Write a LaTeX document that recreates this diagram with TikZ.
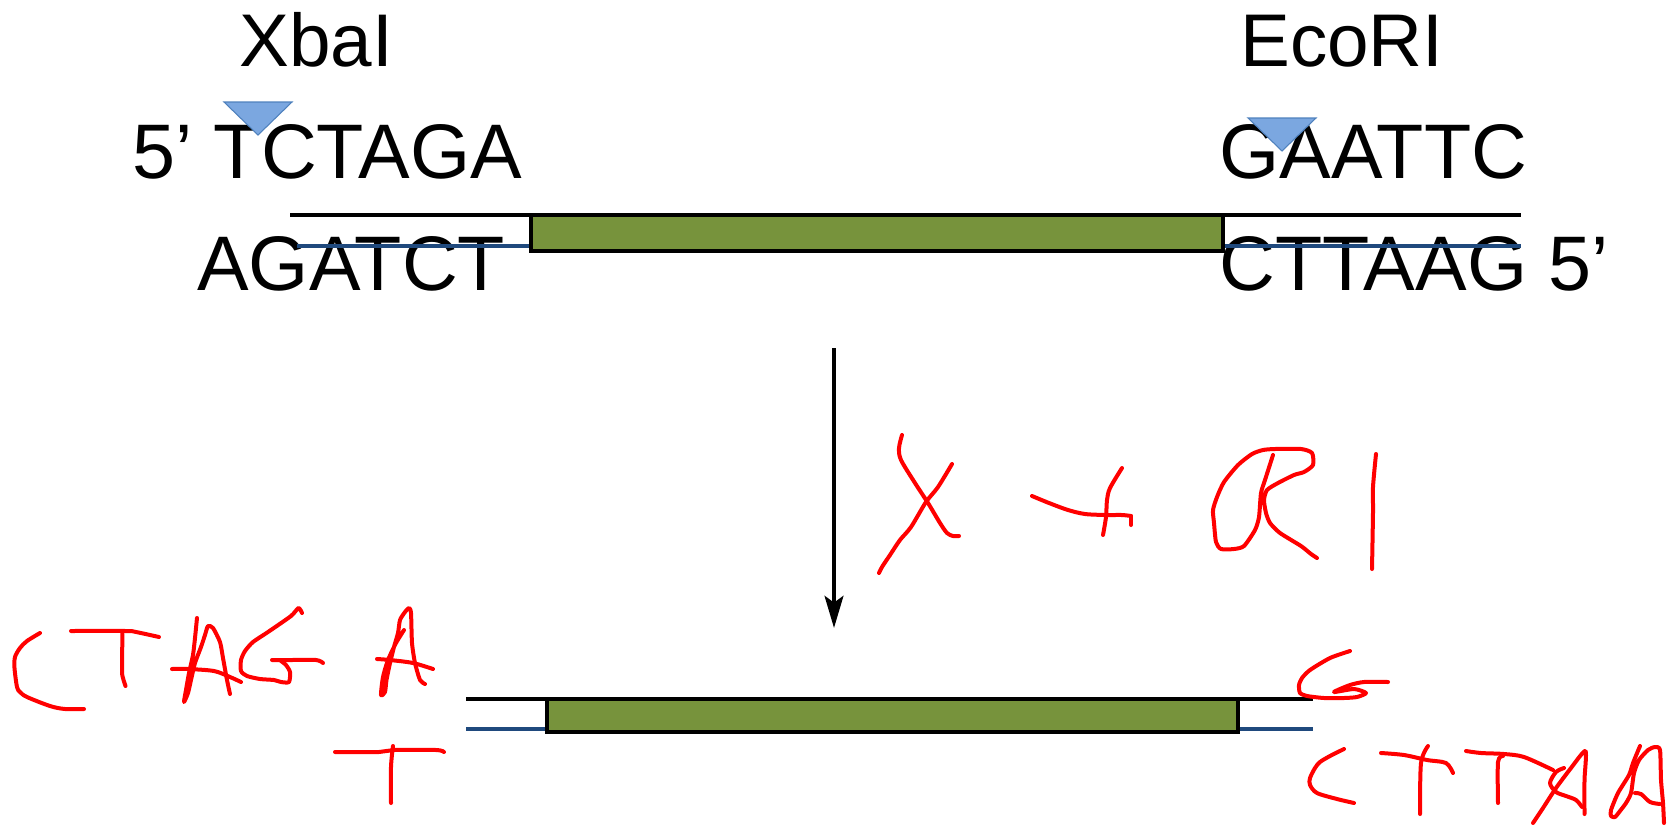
\documentclass[tikz,border=0pt]{standalone}
\usepackage{fontspec}
\setmainfont{Liberation Sans}
\usetikzlibrary{arrows.meta}
\definecolor{insertgreen}{HTML}{77933C}
\definecolor{strandblue}{HTML}{1F497D}
\definecolor{cutfill}{HTML}{7BA7E0}
\definecolor{cutedge}{HTML}{4F81BD}
\tikzset{
  enzyme/.style={inner sep=0pt, anchor=base west, font=\fontsize{56}{60}\selectfont},
  seq/.style={inner sep=0pt, anchor=base west, font=\fontsize{58}{62}\selectfont},
  topstrand/.style={draw=black, line width=3.3pt},
  botstrand/.style={draw=strandblue, line width=3.3pt},
  insert/.style={draw=black, fill=insertgreen, line width=3.3pt},
  cutmark/.style={draw=cutedge, fill=cutfill, line width=0.8pt, line join=miter},
  flow/.style={draw=black, line width=3.4pt, -{Stealth[length=24pt, width=14pt, inset=5pt]}},
  hand/.style={draw=red, line width=3pt, line cap=round, line join=round}
}
\begin{document}
\begin{tikzpicture}[x=0.75pt, y=-0.75pt]
\path[use as bounding box] (0,0) rectangle (1674,825);

% enzyme names and recognition sites
\node[enzyme] (xba) at (239,66) {XbaI};
\node[enzyme] (eco) at (1240,66) {EcoRI};
\node[seq] (xtop) at (132,178) {5’ TCTAGA};
\node[seq] (xbot) at (197,290) {AGATCT};
\node[seq] (etop) at (1219,178) {GAATTC};
\node[seq] (ebot) at (1219,290) {CTTAAG 5’};

% cut-site markers
\draw[cutmark] (224,102) -- (292,102) -- (258,135) -- cycle;
\draw[cutmark] (1248,118) -- (1316,118) -- (1282,151) -- cycle;

% uncut fragment
\coordinate (t1) at (290,215);  \coordinate (t2) at (1521,215);
\coordinate (b1) at (297,246);  \coordinate (b2) at (1521,246);
\draw[topstrand] (t1) -- (t2);
\draw[botstrand] (b1) -- (b2);
\draw[insert] (531,215) rectangle (1223,251);

% digestion arrow
\coordinate (arrtop) at (834,348);
\coordinate (arrtip) at (834,628);
\draw[flow] (arrtop) -- (arrtip);

% cut fragment
\coordinate (u1) at (466,699);  \coordinate (u2) at (1313,699);
\coordinate (v1) at (466,729);  \coordinate (v2) at (1313,729);
\draw[topstrand] (u1) -- (u2);
\draw[botstrand] (v1) -- (v2);
\draw[insert] (547,699) rectangle (1238,732);

% handwritten: X + RI
\draw[hand] plot[smooth,tension=.5] coordinates {(902,435) (899,448) (901,460) (915,483) (928,503) (940,523) (947,533) (953,536) (959,536)};
\draw[hand] plot[smooth,tension=.5] coordinates {(952,464) (938,487) (926,502) (911,527) (900,540) (890,555) (882,567) (879,573)};
\draw[hand] plot[smooth,tension=.5] coordinates {(1032,496) (1049,503) (1068,510) (1085,514) (1106,515) (1122,515) (1131,516)};
\draw[hand] (1131,516) -- (1131,525);
\draw[hand] plot[smooth,tension=.5] coordinates {(1122,468) (1110,488) (1107,500) (1106,517) (1103,535)};
\draw[hand] plot[smooth,tension=.4] coordinates {(1273,455) (1265,480) (1261,493) (1259,517) (1255,530) (1244,546) (1234,549) (1221,549) (1216,542) (1214,523) (1213,510) (1217,497) (1224,482) (1238,465) (1252,454) (1263,450) (1275,449) (1301,449) (1312,453) (1313,465) (1304,472) (1294,475) (1278,483) (1267,490) (1264,500) (1266,513) (1270,523) (1280,533) (1301,546) (1311,554) (1317,558)};
\draw[hand] plot[smooth,tension=.5] coordinates {(1376,454) (1373,487) (1373,512) (1372,569)};

% handwritten: CTAG A over T
\draw[hand] plot[smooth,tension=.5] coordinates {(40,633) (27,641) (20,648) (15,657) (14.5,668) (17,687) (20,692) (27,697) (50,706) (65,709) (84,709)};
\draw[hand] plot[smooth,tension=.5] coordinates {(71,631) (126,631) (136,632) (159,637)};
\draw[hand] plot[smooth,tension=.5] coordinates {(122.5,632) (122,670) (123,678) (125.5,686)};
\draw[hand] plot[smooth,tension=.4] coordinates {(197,618) (195,638) (193,655) (189,673) (186,690) (184,702) (188,693) (191,680) (195,663) (201,647) (205,635) (208,626) (213,628) (220,642) (223,658) (227,680) (230,694)};
\draw[hand] plot[smooth,tension=.5] coordinates {(172,669) (188,669) (214,671) (230,677) (241,682)};
\draw[hand] plot[smooth,tension=.4] coordinates {(302,613) (298.5,608) (291,616) (268,632) (253,642) (245,651) (241,660) (241,671) (247,676) (260,679) (274,680) (281,682) (289,682) (290,672) (286,665) (281,661)};
\draw[hand] plot[smooth,tension=.5] coordinates {(272,660) (291,660) (316,660) (323,663)};
\draw[hand] plot[smooth,tension=.4] coordinates {(404,630) (396,643) (388,660) (383,677) (381,695) (385,692) (386.5,680) (390,663) (394,647) (398,633) (400,620) (405,612) (409,608) (411,613) (412,643) (415,663) (420,680) (425,684)};
\draw[hand] plot[smooth,tension=.5] coordinates {(377,659) (390,660) (413,663) (433,669)};
\draw[hand] plot[smooth,tension=.5] coordinates {(335,752) (379,752) (394,750) (436,750) (444,752)};
\draw[hand] plot[smooth,tension=.5] coordinates {(393,746) (391,767) (391,803)};

% handwritten: G over CTTAA
\draw[hand] plot[smooth,tension=.4] coordinates {(1350,651) (1330,658) (1310,670) (1302,678) (1299,685) (1300,693) (1307,696) (1324,698) (1344,698) (1357,697) (1366,693) (1354,689) (1334,692) (1350,685) (1364,682) (1388,682)};
\draw[hand] plot[smooth,tension=.5] coordinates {(1344,749) (1330,756) (1320,762) (1315,768) (1310,778) (1310,785) (1317,793) (1337,799) (1354,803)};
\draw[hand] plot[smooth,tension=.5] coordinates {(1381,753) (1404,755) (1427,760) (1446,763) (1453,773)};
\draw[hand] plot[smooth,tension=.5] coordinates {(1428,746) (1421,763) (1420,814)};
\draw[hand] plot[smooth,tension=.5] coordinates {(1466,751) (1481,753) (1504,754) (1524,757) (1553,770)};
\draw[hand] plot[smooth,tension=.5] coordinates {(1503,756) (1498,762) (1498,803)};
\draw[hand] plot[smooth,tension=.4] coordinates {(1533,823) (1543,808) (1556,788) (1571,768) (1585.5,751) (1584.5,780) (1584.5,814)};
\draw[hand] plot[smooth,tension=.5] coordinates {(1564,768) (1556,772) (1550,783) (1556,792) (1566,796) (1576,800) (1582,807)};
\draw[hand] plot[smooth,tension=.4] coordinates {(1640,746) (1633,763) (1629,775) (1618,793) (1611,810) (1611,816) (1615,817) (1620,811) (1626,803) (1631,793) (1634,773) (1639,760) (1648,750) (1655,747) (1660,750) (1661,780) (1663,803) (1664,823)};
\draw[hand] plot[smooth,tension=.5] coordinates {(1635,793) (1641,794) (1650,802) (1660,804)};
\end{tikzpicture}
\end{document}
